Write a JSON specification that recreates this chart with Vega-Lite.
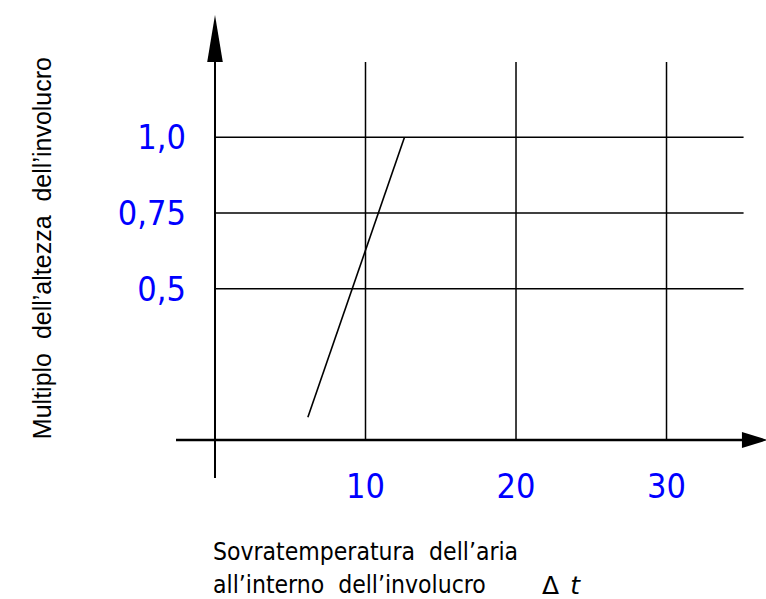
{
  "$schema": "https://vega.github.io/schema/vega-lite/v6.json",
  "width": 766,
  "height": 599,
  "autosize": "none",
  "padding": 0,
  "background": "white",
  "config": {"view": {"stroke": null}},
  "datasets": {
    "vgrid": [{"t": 10, "y0": 0, "y1": 1.2488}, {"t": 20, "y0": 0, "y1": 1.2488}, {"t": 30, "y0": 0, "y1": 1.2488}],
    "hgrid": [{"m": 0.5, "x0": 0, "x1": 35.12}, {"m": 0.75, "x0": 0, "x1": 35.12}, {"m": 1.0, "x0": 0, "x1": 35.12}],
    "yaxis": [{"t": 0, "y0": -0.1255, "y1": 1.3}],
    "xaxis": [{"m": 0, "x0": -2.59, "x1": 35.5}],
    "curve": [{"t": 6.17, "m": 0.075}, {"t": 12.59, "m": 1.0}],
    "xlabels": [{"t": 10, "label": "10"}, {"t": 20, "label": "20"}, {"t": 30, "label": "30"}],
    "ylabels": [{"m": 0.5, "label": "0,5"}, {"m": 0.75, "label": "0,75"}, {"m": 1.0, "label": "1,0"}],
    "yarrow": [{"t": 0, "m": 1.404}],
    "xarrow": [{"t": 36.74, "m": 0}]
  },
  "layer": [
    {
      "data": {"name": "vgrid"},
      "mark": {"type": "rule", "color": "black", "strokeWidth": 1.5},
      "encoding": {
        "x": {"field": "t", "type": "quantitative", "scale": {"domain": [-14.285, 36.61], "nice": false, "zero": false}, "axis": null},
        "y": {"field": "y0", "type": "quantitative", "scale": {"domain": [-0.5253, 1.4536], "nice": false, "zero": false}, "axis": null},
        "y2": {"field": "y1"}
      }
    },
    {
      "data": {"name": "hgrid"},
      "mark": {"type": "rule", "color": "black", "strokeWidth": 1.5},
      "encoding": {
        "y": {"field": "m", "type": "quantitative"},
        "x": {"field": "x0", "type": "quantitative"},
        "x2": {"field": "x1"}
      }
    },
    {
      "data": {"name": "yaxis"},
      "mark": {"type": "rule", "color": "black", "strokeWidth": 2},
      "encoding": {
        "x": {"field": "t", "type": "quantitative"},
        "y": {"field": "y0", "type": "quantitative"},
        "y2": {"field": "y1"}
      }
    },
    {
      "data": {"name": "xaxis"},
      "mark": {"type": "rule", "color": "black", "strokeWidth": 2.5},
      "encoding": {
        "y": {"field": "m", "type": "quantitative"},
        "x": {"field": "x0", "type": "quantitative"},
        "x2": {"field": "x1"}
      }
    },
    {
      "data": {"name": "curve"},
      "mark": {"type": "line", "color": "black", "strokeWidth": 1.6},
      "encoding": {
        "x": {"field": "t", "type": "quantitative"},
        "y": {"field": "m", "type": "quantitative"}
      }
    },
    {
      "data": {"name": "yarrow"},
      "mark": {"type": "point", "filled": true, "color": "black", "opacity": 1, "size": 400, "shape": "M0,0L0.78,4.7L-0.78,4.7Z"},
      "encoding": {
        "x": {"field": "t", "type": "quantitative"},
        "y": {"field": "m", "type": "quantitative"}
      }
    },
    {
      "data": {"name": "xarrow"},
      "mark": {"type": "point", "filled": true, "color": "black", "opacity": 1, "size": 400, "shape": "M0,0L-2.6,-0.8L-2.6,0.8Z"},
      "encoding": {
        "x": {"field": "t", "type": "quantitative"},
        "y": {"field": "m", "type": "quantitative"}
      }
    },
    {
      "data": {"name": "xlabels"},
      "mark": {"type": "text", "color": "#0000ff", "font": "DejaVu Sans Condensed, Liberation Sans", "fontSize": 34, "align": "center", "baseline": "middle"},
      "encoding": {
        "x": {"field": "t", "type": "quantitative"},
        "y": {"datum": -0.1586, "type": "quantitative"},
        "text": {"field": "label"}
      }
    },
    {
      "data": {"name": "ylabels"},
      "mark": {"type": "text", "color": "#0000ff", "font": "DejaVu Sans Condensed, Liberation Sans", "fontSize": 34, "align": "right", "baseline": "middle", "dy": 2},
      "encoding": {
        "x": {"datum": -1.93, "type": "quantitative"},
        "y": {"field": "m", "type": "quantitative"},
        "text": {"field": "label"}
      }
    },
    {
      "data": {"values": [{"t": -11.43, "m": 0.634, "label": "Multiplo\u00a0\u00a0dell’altezza\u00a0\u00a0dell’involucro"}]},
      "mark": {"type": "text", "color": "black", "font": "Liberation Sans", "fontSize": 25, "align": "center", "baseline": "middle", "angle": 270},
      "encoding": {
        "x": {"field": "t", "type": "quantitative"},
        "y": {"field": "m", "type": "quantitative"},
        "text": {"field": "label"}
      }
    },
    {
      "data": {"values": [{"t": -0.13, "m": -0.373, "label": "Sovratemperatura\u00a0\u00a0dell’aria"}, {"t": -0.13, "m": -0.484, "label": "all’interno\u00a0\u00a0dell’involucro"}]},
      "mark": {"type": "text", "color": "black", "font": "DejaVu Sans Condensed, Liberation Sans", "fontSize": 24.5, "align": "left", "baseline": "middle"},
      "encoding": {
        "x": {"field": "t", "type": "quantitative"},
        "y": {"field": "m", "type": "quantitative"},
        "text": {"field": "label"}
      }
    },
    {
      "data": {"values": [{"t": 21.73, "m": -0.481, "label": "Δ"}]},
      "mark": {"type": "text", "color": "black", "font": "DejaVu Sans", "fontSize": 25, "align": "left", "baseline": "middle"},
      "encoding": {
        "x": {"field": "t", "type": "quantitative"},
        "y": {"field": "m", "type": "quantitative"},
        "text": {"field": "label"}
      }
    },
    {
      "data": {"values": [{"t": 23.6, "m": -0.481, "label": "t"}]},
      "mark": {"type": "text", "color": "black", "font": "DejaVu Sans", "fontSize": 25, "fontStyle": "italic", "align": "left", "baseline": "middle"},
      "encoding": {
        "x": {"field": "t", "type": "quantitative"},
        "y": {"field": "m", "type": "quantitative"},
        "text": {"field": "label"}
      }
    }
  ]
}
